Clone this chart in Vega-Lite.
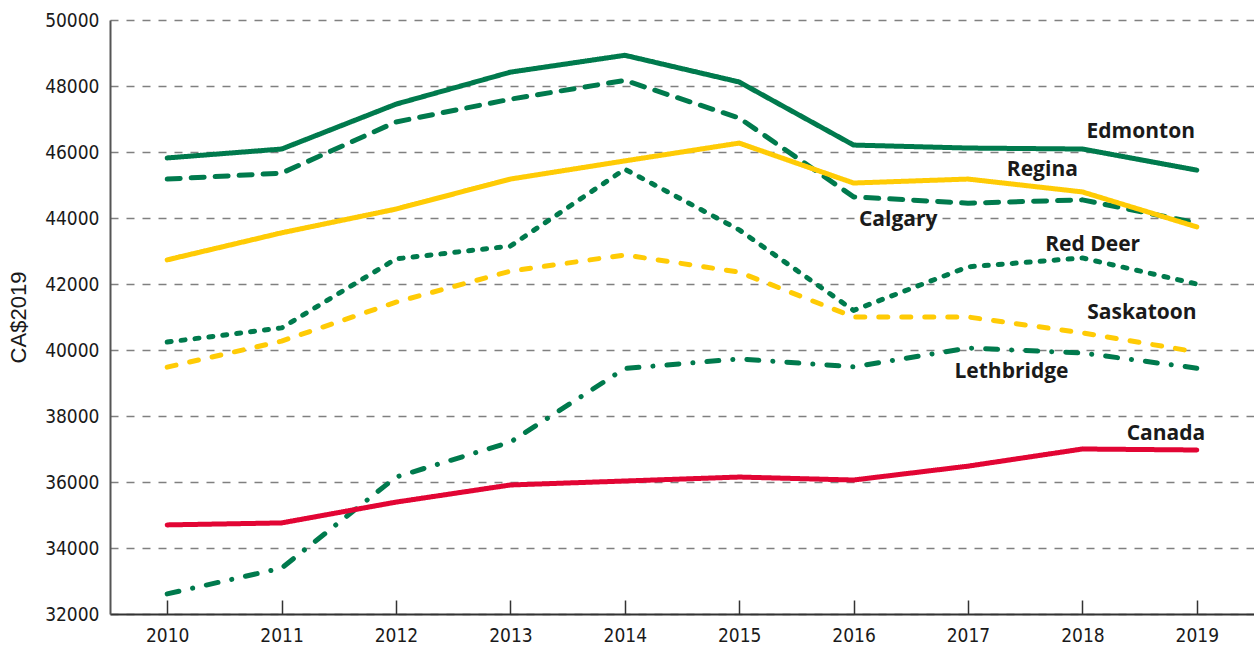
{
  "$schema": "https://vega.github.io/schema/vega-lite/v6.json",
  "width": 1144,
  "height": 594,
  "autosize": {"type": "none"},
  "padding": {"left": 110, "top": 20, "right": 0, "bottom": 34},
  "background": "white",
  "config": {"view": {"stroke": null}},
  "datasets": {
    "series": [
      {"city": "Edmonton", "year": 2010, "value": 45820},
      {"city": "Edmonton", "year": 2011, "value": 46090},
      {"city": "Edmonton", "year": 2012, "value": 47450},
      {"city": "Edmonton", "year": 2013, "value": 48420},
      {"city": "Edmonton", "year": 2014, "value": 48930},
      {"city": "Edmonton", "year": 2015, "value": 48120},
      {"city": "Edmonton", "year": 2016, "value": 46210},
      {"city": "Edmonton", "year": 2017, "value": 46120},
      {"city": "Edmonton", "year": 2018, "value": 46090},
      {"city": "Edmonton", "year": 2019, "value": 45450},
      {"city": "Calgary", "year": 2010, "value": 45180},
      {"city": "Calgary", "year": 2011, "value": 45360},
      {"city": "Calgary", "year": 2012, "value": 46910},
      {"city": "Calgary", "year": 2013, "value": 47600},
      {"city": "Calgary", "year": 2014, "value": 48170},
      {"city": "Calgary", "year": 2015, "value": 47030},
      {"city": "Calgary", "year": 2016, "value": 44640},
      {"city": "Calgary", "year": 2017, "value": 44450},
      {"city": "Calgary", "year": 2018, "value": 44550},
      {"city": "Calgary", "year": 2019, "value": 43850},
      {"city": "Regina", "year": 2010, "value": 42730},
      {"city": "Regina", "year": 2011, "value": 43550},
      {"city": "Regina", "year": 2012, "value": 44270},
      {"city": "Regina", "year": 2013, "value": 45180},
      {"city": "Regina", "year": 2014, "value": 45730},
      {"city": "Regina", "year": 2015, "value": 46270},
      {"city": "Regina", "year": 2016, "value": 45060},
      {"city": "Regina", "year": 2017, "value": 45180},
      {"city": "Regina", "year": 2018, "value": 44790},
      {"city": "Regina", "year": 2019, "value": 43730},
      {"city": "Red Deer", "year": 2010, "value": 40240},
      {"city": "Red Deer", "year": 2011, "value": 40670},
      {"city": "Red Deer", "year": 2012, "value": 42760},
      {"city": "Red Deer", "year": 2013, "value": 43150},
      {"city": "Red Deer", "year": 2014, "value": 45480},
      {"city": "Red Deer", "year": 2015, "value": 43640},
      {"city": "Red Deer", "year": 2016, "value": 41200},
      {"city": "Red Deer", "year": 2017, "value": 42520},
      {"city": "Red Deer", "year": 2018, "value": 42790},
      {"city": "Red Deer", "year": 2019, "value": 42000},
      {"city": "Saskatoon", "year": 2010, "value": 39480},
      {"city": "Saskatoon", "year": 2011, "value": 40270},
      {"city": "Saskatoon", "year": 2012, "value": 41450},
      {"city": "Saskatoon", "year": 2013, "value": 42390},
      {"city": "Saskatoon", "year": 2014, "value": 42880},
      {"city": "Saskatoon", "year": 2015, "value": 42360},
      {"city": "Saskatoon", "year": 2016, "value": 41000},
      {"city": "Saskatoon", "year": 2017, "value": 41000},
      {"city": "Saskatoon", "year": 2018, "value": 40520},
      {"city": "Saskatoon", "year": 2019, "value": 39940},
      {"city": "Lethbridge", "year": 2010, "value": 32610},
      {"city": "Lethbridge", "year": 2011, "value": 33390},
      {"city": "Lethbridge", "year": 2012, "value": 36150},
      {"city": "Lethbridge", "year": 2013, "value": 37210},
      {"city": "Lethbridge", "year": 2014, "value": 39440},
      {"city": "Lethbridge", "year": 2015, "value": 39730},
      {"city": "Lethbridge", "year": 2016, "value": 39490},
      {"city": "Lethbridge", "year": 2017, "value": 40060},
      {"city": "Lethbridge", "year": 2018, "value": 39910},
      {"city": "Lethbridge", "year": 2019, "value": 39450},
      {"city": "Canada", "year": 2010, "value": 34700},
      {"city": "Canada", "year": 2011, "value": 34760},
      {"city": "Canada", "year": 2012, "value": 35390},
      {"city": "Canada", "year": 2013, "value": 35910},
      {"city": "Canada", "year": 2014, "value": 36030},
      {"city": "Canada", "year": 2015, "value": 36150},
      {"city": "Canada", "year": 2016, "value": 36060},
      {"city": "Canada", "year": 2017, "value": 36480},
      {"city": "Canada", "year": 2018, "value": 37000},
      {"city": "Canada", "year": 2019, "value": 36970}
    ],
    "labels": [
      {"label": "Edmonton", "x": 2018.51, "y": 46600},
      {"label": "Regina", "x": 2017.65, "y": 45450},
      {"label": "Calgary", "x": 2016.39, "y": 43940},
      {"label": "Red Deer", "x": 2018.09, "y": 43180},
      {"label": "Saskatoon", "x": 2018.52, "y": 41120},
      {"label": "Lethbridge", "x": 2017.38, "y": 39330},
      {"label": "Canada", "x": 2018.73, "y": 37450}
    ]
  },
  "layer": [
    {
      "data": {"name": "series"},
      "mark": {"type": "line", "strokeWidth": 5, "strokeCap": "round", "strokeJoin": "round"},
      "encoding": {
        "x": {
          "field": "year", "type": "quantitative",
          "scale": {"domain": [2009.5, 2019.5], "nice": false, "zero": false},
          "axis": {
            "values": [2010, 2011, 2012, 2013, 2014, 2015, 2016, 2017, 2018, 2019],
            "format": "d", "title": null, "grid": false,
            "tickSize": -14, "tickColor": "#333333", "tickWidth": 1.5,
            "domainColor": "#333333", "domainWidth": 2,
            "labelFont": "DejaVu Sans Condensed, Roboto, sans-serif", "labelFontSize": 19, "labelColor": "#1a1a1a",
            "labelPadding": 26
          }
        },
        "y": {
          "field": "value", "type": "quantitative",
          "scale": {"domain": [32000, 50000], "nice": false, "zero": false},
          "axis": {
            "values": [32000, 34000, 36000, 38000, 40000, 42000, 44000, 46000, 48000, 50000],
            "format": "d", "title": "CA$2019", "ticks": false,
            "grid": true, "gridDash": [8, 8], "gridColor": "#808080", "gridWidth": 1.5,
            "domainColor": "#555555", "domainWidth": 2,
            "labelFont": "DejaVu Sans Condensed, Roboto, sans-serif", "labelFontSize": 19, "labelColor": "#1a1a1a",
            "labelPadding": 11,
            "titleFont": "Liberation Sans", "titleFontSize": 22, "titleFontWeight": "normal",
            "titleColor": "#1a1a1a", "titlePadding": 14
          }
        },
        "color": {
          "field": "city", "type": "nominal", "legend": null,
          "scale": {
            "domain": ["Edmonton", "Calgary", "Regina", "Red Deer", "Saskatoon", "Lethbridge", "Canada"],
            "range": ["#007a4d", "#007a4d", "#ffcb05", "#007a4d", "#ffcb05", "#007a4d", "#e20534"]
          }
        },
        "strokeDash": {
          "field": "city", "type": "nominal", "legend": null,
          "scale": {
            "domain": ["Edmonton", "Calgary", "Regina", "Red Deer", "Saskatoon", "Lethbridge", "Canada"],
            "range": [[1, 0], [13, 11], [1, 0], [4, 10], [9, 14], [12, 14, 0.1, 14], [1, 0]]
          }
        }
      }
    },
    {
      "data": {"name": "labels"},
      "mark": {"type": "text", "font": "Open Sans", "fontWeight": "bold", "fontSize": 21, "color": "#1a1a1a"},
      "encoding": {
        "x": {"field": "x", "type": "quantitative"},
        "y": {"field": "y", "type": "quantitative"},
        "text": {"field": "label"}
      }
    }
  ]
}
